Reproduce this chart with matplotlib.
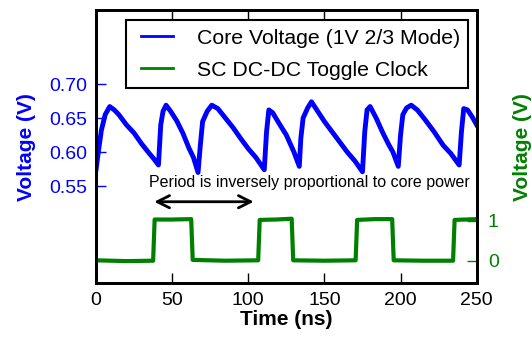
import matplotlib
matplotlib.use('Agg')
import matplotlib.pyplot as plt
from matplotlib.legend_handler import HandlerLine2D

plt.rcParams['font.family'] = ['Liberation Sans', 'DejaVu Sans']

# core voltage trace (ns, V)
core_t = [0, 1.5, 3.5, 6, 9, 12, 15, 20, 25, 30, 35, 38, 41,
          42.5, 44, 46, 49, 53, 57, 61, 64, 67,
          68.5, 70, 73, 76, 80, 85, 90, 95, 100, 105, 110.5,
          112, 113.5, 116, 120, 125, 130, 133.5,
          134.5, 136, 139, 141.5, 145, 150, 155, 160, 165, 170, 175,
          176.5, 178, 180, 184, 188, 192, 195, 198.5,
          200, 201.5, 204, 207, 211, 216, 222, 228, 233, 238.5,
          240, 241.5, 244, 247, 250]
core_v = [0.574, 0.600, 0.632, 0.655, 0.667, 0.662, 0.655, 0.640, 0.628, 0.612, 0.598, 0.590, 0.581,
          0.640, 0.660, 0.669, 0.660, 0.646, 0.628, 0.606, 0.592, 0.570,
          0.610, 0.645, 0.660, 0.669, 0.664, 0.650, 0.636, 0.620, 0.605, 0.592, 0.574,
          0.630, 0.662, 0.658, 0.643, 0.625, 0.600, 0.579,
          0.620, 0.650, 0.665, 0.674, 0.662, 0.645, 0.630, 0.615, 0.600, 0.587, 0.571,
          0.630, 0.662, 0.667, 0.650, 0.630, 0.612, 0.600, 0.579,
          0.625, 0.655, 0.665, 0.669, 0.662, 0.648, 0.630, 0.610, 0.598, 0.581,
          0.630, 0.664, 0.662, 0.652, 0.640]

# toggle clock (ns, V)
clk_t = [0, 20, 37.5, 38.5, 50, 62.5, 63.5, 85, 106.5, 107.5, 118, 128.5, 129.5,
         150, 170.5, 171.5, 183, 194.5, 195.5, 215, 234.5, 235.5, 250]
clk_v = [0.01, -0.01, 0.0, 1.03, 1.03, 1.04, 0.02, 0.0, 0.01, 1.02, 1.03, 1.05, 0.01,
         0.0, 0.01, 1.02, 1.04, 1.04, 0.01, 0.0, 0.0, 1.02, 1.04]

fig = plt.figure(figsize=(5.32, 3.39), dpi=100)
ax = fig.add_axes([0.1805, 0.1643, 0.7155, 0.8062])
ax2 = ax.twinx()

l1, = ax.plot(core_t, core_v, color='#0000ff', lw=3.5)
l2, = ax2.plot(clk_t, clk_v, color='#008000', lw=3)

ax.set_xlim(0, 250)
ax.set_ylim(0.407, 0.809)
ax2.set_ylim(-0.565, 6.27)

ax.set_xticks([0, 50, 100, 150, 200, 250])
ax.set_yticks([0.55, 0.60, 0.65, 0.70])
ax.set_yticklabels(['0.55', '0.60', '0.65', '0.70'])
ax2.set_yticks([0, 1])

ax.tick_params(axis='x', direction='in', top=True, length=7, width=1, labelsize=14, pad=6)
ax.tick_params(axis='y', direction='in', length=7, width=1, labelsize=14, pad=6,
               colors='#0000ff')
ax2.tick_params(axis='y', direction='in', length=7, width=1, labelsize=14, pad=8,
                colors='#008000')

for a in (ax, ax2):
    for s in a.spines.values():
        s.set_linewidth(2)
        s.set_color('k')

ax.set_xlabel('Time (ns)', fontsize=15, fontweight='bold', labelpad=1)
ax.set_ylabel('Voltage (V)', fontsize=15, fontweight='bold', color='#0000ff', labelpad=10)
ax2.set_ylabel('Voltage (V)', fontsize=15, fontweight='bold', color='#008000', labelpad=10)

ax2.annotate('', xy=(36.4, 1.475), xytext=(105.4, 1.475),
             arrowprops=dict(arrowstyle='<->', lw=2, color='k', mutation_scale=22))
ax2.text(140, 1.95, 'Period is inversely proportional to core power',
         ha='center', va='center', fontsize=11.5)

hmap = {l1: HandlerLine2D(xpad=0.32), l2: HandlerLine2D(xpad=0.32)}
leg = ax2.legend([l1, l2], ['Core Voltage (1V 2/3 Mode)', 'SC DC-DC Toggle Clock'],
                 loc='upper right', bbox_to_anchor=(0.978, 0.963), borderaxespad=0,
                 fontsize=15.3, fancybox=False, framealpha=1, edgecolor='k',
                 handlelength=1.84, handletextpad=1.09, labelspacing=0.62,
                 borderpad=0.4, handler_map=hmap)
leg.get_frame().set_linewidth(1.5)
for hl in leg.get_lines():
    hl.set_linewidth(2)

fig.savefig('out.png', dpi=100)
